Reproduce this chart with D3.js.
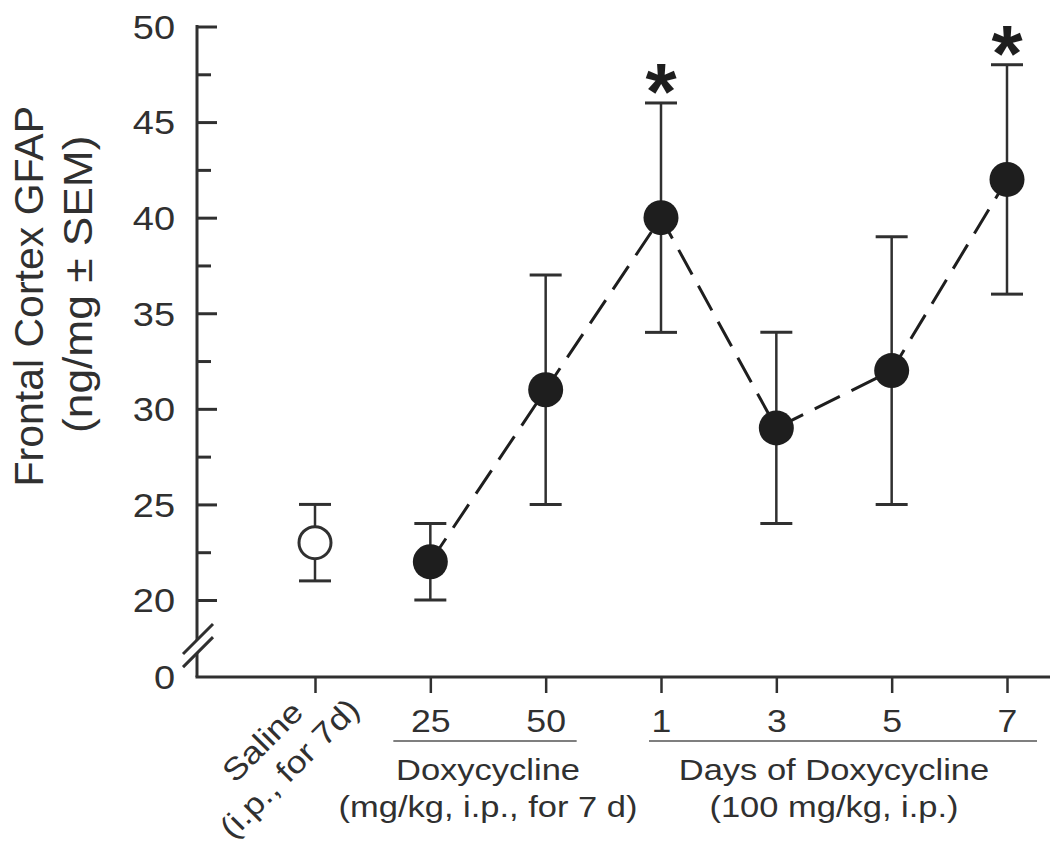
<!DOCTYPE html>
<html>
<head>
<meta charset="utf-8">
<script src="https://cdn.jsdelivr.net/npm/d3@7"></script>
<style>
  html, body { margin: 0; padding: 0; background: #fff; }
  svg { display: block; }
</style>
</head>
<body>
<svg id="chart" width="1050" height="850"></svg>
<script>
// ---------------- DATA ----------------
const categories   = ["Saline", "25", "50", "1", "3", "5", "7"];
const means        = [23, 22, 31, 40, 29, 32, 42];
const upperSEM     = [25, 24, 37, 46, 34, 39, 48];
const lowerSEM     = [21, 20, 25, 34, 24, 25, 36];
const filledMarker = [false, true, true, true, true, true, true];
const significant  = [false, false, false, true, false, false, true];
const connected    = ["25", "50", "1", "3", "5", "7"];
const yTickValues  = [0, 20, 25, 30, 35, 40, 45, 50];
const yMinorTicks  = [22.5, 27.5, 32.5, 37.5, 42.5, 47.5];
const xTickLabels  = ["", "25", "50", "1", "3", "5", "7"];
const salineLabel  = ["Saline", "(i.p., for 7d)"];
const doseGroup    = { first: "25", last: "50", lines: ["Doxycycline", "(mg/kg, i.p., for 7 d)"] };
const daysGroup    = { first: "1",  last: "7",  lines: ["Days of Doxycycline", "(100 mg/kg, i.p.)"] };
const yTitle       = ["Frontal Cortex GFAP", "(ng/mg \u00B1 SEM)"];

// ---------------- LAYOUT ----------------
const W = 1050, H = 850;
const axisX = 197, axisY = 677;
const INK = "#303030", MARK = "#1e1e1e";
const FONT = "'Liberation Sans', Arial, Helvetica, sans-serif";
const STRETCH = 1.15;

const svg = d3.select("#chart");
svg.append("rect").attr("width", W).attr("height", H).attr("fill", "#fff");

const x = d3.scalePoint().domain(categories).range([315, 1007]);
// broken axis: 0 placed just below the 20..50 range
const y = d3.scaleLinear().domain([0, 20, 50]).range([axisY, 600, 26.5]);

const rows = categories.map((c, i) => ({
  cat: c, mean: means[i], hi: upperSEM[i], lo: lowerSEM[i],
  filled: filledMarker[i], sig: significant[i]
}));

// ---------------- Y AXIS ----------------
const yAxisG = svg.append("g").attr("transform", `translate(${axisX},0)`);
yAxisG.call(d3.axisLeft(y).tickValues(yTickValues).tickSize(-20).tickFormat(d3.format("d")));
yAxisG.select(".domain").remove();
yAxisG.selectAll(".tick line").attr("stroke", INK).attr("stroke-width", 3)
  .filter(d => d === 0).remove();
yAxisG.selectAll(".tick text")
  .attr("x", null).attr("dy", "0.36em")
  .attr("transform", `translate(-22,0) scale(${STRETCH},1)`)
  .attr("fill", INK).attr("font-size", 33).attr("font-family", FONT)
  .attr("text-anchor", "end");
yAxisG.attr("font-family", FONT);

const yMinorG = svg.append("g").attr("transform", `translate(${axisX},0)`);
yMinorG.call(d3.axisLeft(y).tickValues(yMinorTicks).tickSize(-14).tickFormat(""));
yMinorG.select(".domain").remove();
yMinorG.selectAll(".tick line").attr("stroke", INK).attr("stroke-width", 3);

// axis line with break
const breakTop = y(9.6), breakBot = y(6.2);
svg.append("line").attr("x1", axisX).attr("x2", axisX)
  .attr("y1", y(50) - 1.5).attr("y2", breakTop)
  .attr("stroke", INK).attr("stroke-width", 3);
svg.append("line").attr("x1", axisX).attr("x2", axisX)
  .attr("y1", breakBot).attr("y2", axisY)
  .attr("stroke", INK).attr("stroke-width", 3);
[breakTop, breakBot].forEach(by => {
  svg.append("line")
    .attr("x1", axisX - 14).attr("y1", by + 14)
    .attr("x2", axisX + 16).attr("y2", by - 16)
    .attr("stroke", INK).attr("stroke-width", 3);
});

// ---------------- X AXIS ----------------
svg.append("line").attr("x1", axisX - 1.5).attr("x2", W)
  .attr("y1", axisY).attr("y2", axisY)
  .attr("stroke", INK).attr("stroke-width", 3);

const xAxisG = svg.append("g").attr("transform", `translate(0,${axisY})`);
xAxisG.call(d3.axisBottom(x).tickSize(16).tickFormat((d, i) => xTickLabels[i]));
xAxisG.select(".domain").remove();
xAxisG.selectAll(".tick line").attr("stroke", INK).attr("stroke-width", 2.5);
xAxisG.selectAll(".tick text")
  .attr("y", null).attr("dy", null)
  .attr("transform", `translate(0,55) scale(${STRETCH},1)`)
  .attr("fill", INK).attr("font-size", 31).attr("font-family", FONT);
xAxisG.attr("font-family", FONT);

// stretched text helper
function sText(g, str, tx, ty, size, stretch) {
  return g.append("text")
    .attr("transform", `translate(${tx},${ty}) scale(${stretch || STRETCH},1)`)
    .attr("text-anchor", "middle")
    .attr("font-family", FONT).attr("font-size", size)
    .attr("fill", INK).text(str);
}

// group labels
function groupLabel(grp, padL, padR) {
  const x0 = x(grp.first) - padL, x1 = x(grp.last) + padR;
  svg.append("line").attr("x1", x0).attr("x2", x1)
    .attr("y1", axisY + 64).attr("y2", axisY + 64)
    .attr("stroke", "#555").attr("stroke-width", 1.5);
  const cx = (x(grp.first) + x(grp.last)) / 2;
  sText(svg, grp.lines[0], cx, axisY + 103, 30);
  sText(svg, grp.lines[1], cx, axisY + 140, 30);
}
groupLabel(doseGroup, 37, 31);
groupLabel(daysGroup, 12, 30);

// rotated saline label
const salG = svg.append("g")
  .attr("transform", `translate(${x("Saline") - 45},${axisY + 72}) rotate(-45)`);
salineLabel.forEach((t, i) => sText(salG, t, 0, i * 38, 31));

// y title
const ytG = svg.append("g").attr("transform", `translate(43,${y(35) - 17}) rotate(-90)`);
sText(ytG, yTitle[0], 0, 0, 41, 1.0);
sText(ytG, yTitle[1], 12, 49, 41, 1.08);

// ---------------- MARKS ----------------
const line = d3.line().x(d => x(d.cat)).y(d => y(d.mean));
svg.append("path")
  .datum(rows.filter(r => connected.includes(r.cat)))
  .attr("d", line).attr("fill", "none")
  .attr("stroke", MARK).attr("stroke-width", 3)
  .attr("stroke-dasharray", "28,13");

const eb = svg.append("g");
eb.selectAll(".stem").data(rows).join("line")
  .attr("x1", d => x(d.cat)).attr("x2", d => x(d.cat))
  .attr("y1", d => y(d.hi)).attr("y2", d => y(d.lo))
  .attr("stroke", INK).attr("stroke-width", 2.5);
["hi", "lo"].forEach(k => {
  eb.selectAll(".cap-" + k).data(rows).join("line")
    .attr("x1", d => x(d.cat) - 16).attr("x2", d => x(d.cat) + 16)
    .attr("y1", d => y(d[k])).attr("y2", d => y(d[k]))
    .attr("stroke", INK).attr("stroke-width", 3);
});

svg.append("g").selectAll("circle").data(rows).join("circle")
  .attr("cx", d => x(d.cat)).attr("cy", d => y(d.mean))
  .attr("r", d => d.filled ? 17.5 : 16)
  .attr("fill", d => d.filled ? MARK : "#fff")
  .attr("stroke", d => d.filled ? "none" : INK)
  .attr("stroke-width", 3);

svg.append("g").selectAll("text").data(rows.filter(r => r.sig)).join("text")
  .attr("x", d => x(d.cat)).attr("y", d => y(d.hi) - 22 + 38)
  .attr("text-anchor", "middle").attr("font-family", FONT)
  .attr("font-weight", "bold").attr("font-size", 80).attr("fill", MARK)
  .text("*");
</script>
</body>
</html>
